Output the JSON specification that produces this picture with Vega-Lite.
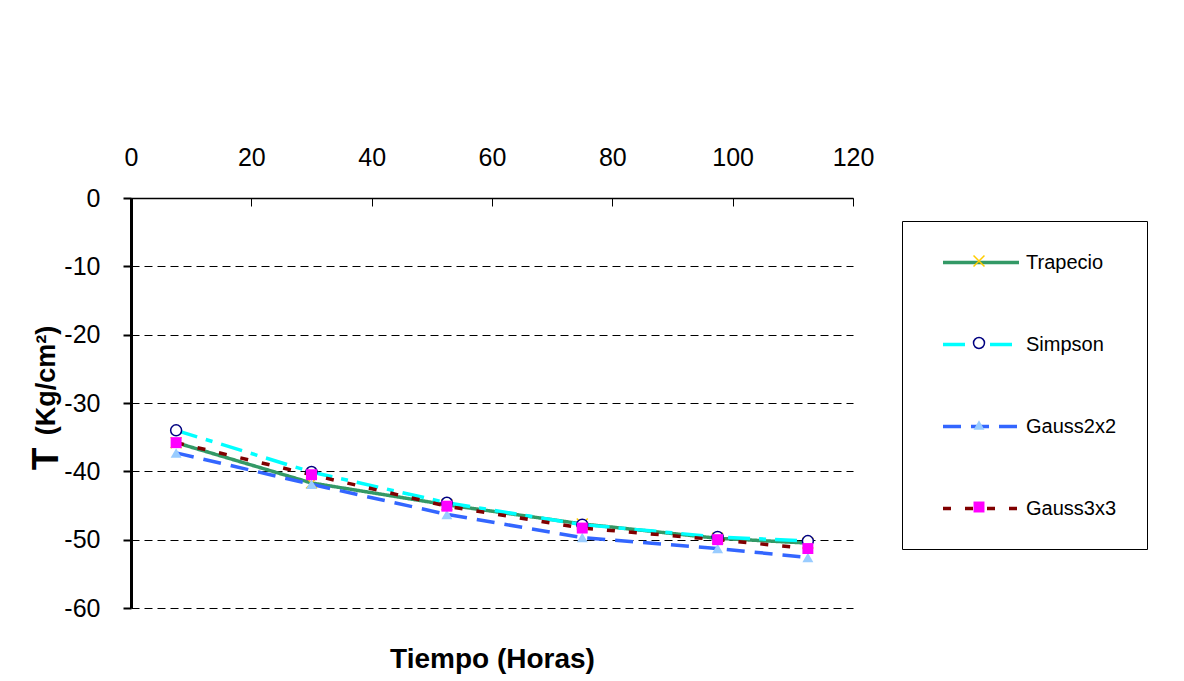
{
  "$schema": "https://vega.github.io/schema/vega-lite/v6.json",
  "width": 722,
  "height": 410,
  "autosize": {"type": "none"},
  "padding": {"left": 131, "top": 198, "right": 331, "bottom": 73},
  "background": "white",
  "config": {"view": {"stroke": null}, "font": "Liberation Sans"},
  "title": {"text": "T", "orient": "left", "anchor": "middle", "frame": "group", "offset": -34, "dx": -56, "fontSize": 37, "fontWeight": "bold", "font": "Liberation Sans", "color": "black"},
  "data": {"values": [
    {"t": 7.5, "T": -35.8, "serie": "Trapecio", "orden": 1},
    {"t": 30, "T": -41.7, "serie": "Trapecio", "orden": 1},
    {"t": 52.5, "T": -44.9, "serie": "Trapecio", "orden": 1},
    {"t": 75, "T": -47.7, "serie": "Trapecio", "orden": 1},
    {"t": 97.5, "T": -49.8, "serie": "Trapecio", "orden": 1},
    {"t": 112.5, "T": -50.5, "serie": "Trapecio", "orden": 1},
    {"t": 7.5, "T": -34.0, "serie": "Simpson", "orden": 2},
    {"t": 30, "T": -40.1, "serie": "Simpson", "orden": 2},
    {"t": 52.5, "T": -44.6, "serie": "Simpson", "orden": 2},
    {"t": 75, "T": -47.8, "serie": "Simpson", "orden": 2},
    {"t": 97.5, "T": -49.6, "serie": "Simpson", "orden": 2},
    {"t": 112.5, "T": -50.2, "serie": "Simpson", "orden": 2},
    {"t": 7.5, "T": -37.3, "serie": "Gauss2x2", "orden": 3},
    {"t": 30, "T": -41.9, "serie": "Gauss2x2", "orden": 3},
    {"t": 52.5, "T": -46.3, "serie": "Gauss2x2", "orden": 3},
    {"t": 75, "T": -49.7, "serie": "Gauss2x2", "orden": 3},
    {"t": 97.5, "T": -51.3, "serie": "Gauss2x2", "orden": 3},
    {"t": 112.5, "T": -52.6, "serie": "Gauss2x2", "orden": 3},
    {"t": 7.5, "T": -35.8, "serie": "Gauss3x3", "orden": 4},
    {"t": 30, "T": -40.5, "serie": "Gauss3x3", "orden": 4},
    {"t": 52.5, "T": -45.1, "serie": "Gauss3x3", "orden": 4},
    {"t": 75, "T": -48.3, "serie": "Gauss3x3", "orden": 4},
    {"t": 97.5, "T": -50.0, "serie": "Gauss3x3", "orden": 4},
    {"t": 112.5, "T": -51.3, "serie": "Gauss3x3", "orden": 4}
  ]},
  "layer": [
    {
      "mark": {"type": "line", "strokeWidth": 3.5},
      "encoding": {
        "x": {"field": "t", "type": "quantitative", "scale": {"domain": [0, 120], "nice": false, "zero": false},
          "axis": {"orient": "top", "values": [0, 20, 40, 60, 80, 100, 120], "grid": false, "domainColor": "black", "domainWidth": 1.5, "tickColor": "black", "tickWidth": 1, "tickSize": -8, "labelFontSize": 25, "labelFont": "Liberation Sans", "labelColor": "black", "labelPadding": 36, "labelFlush": false, "labelOverlap": false,
            "title": "Tiempo (Horas)", "titleFontSize": 28, "titleFont": "Liberation Sans", "titleFontWeight": "bold", "titleColor": "black", "titleX": 361, "titleY": 469, "titleAlign": "center", "titleBaseline": "alphabetic", "titleAnchor": null}},
        "y": {"field": "T", "type": "quantitative", "scale": {"domain": [-60, 0], "nice": false, "zero": false},
          "axis": {"orient": "left", "values": [-60, -50, -40, -30, -20, -10, 0], "labelExpr": "'' + datum.value", "grid": true, "gridColor": "black", "gridDash": [8, 5], "gridWidth": 1, "domainColor": "black", "domainWidth": 3, "tickColor": "black", "tickWidth": 2, "tickSize": 8, "labelFontSize": 25, "labelFont": "Liberation Sans", "labelColor": "black", "labelPadding": 23, "labelFlush": false, "labelOverlap": false,
            "title": "(Kg/cm²)", "titleFontSize": 27, "titleFont": "Liberation Sans", "titleFontWeight": "bold", "titleColor": "black", "titleX": -77, "titleY": 182, "titleAngle": -90, "titleAlign": "center", "titleBaseline": "alphabetic"}},
        "color": {"field": "serie", "type": "nominal",
          "scale": {"domain": ["Trapecio", "Simpson", "Gauss2x2", "Gauss3x3"], "range": ["#339966", "#00FFFF", "#3366FF", "#800000"]},
          "legend": {"title": null, "orient": "none", "legendX": 771, "legendY": 23, "padding": 30, "strokeColor": "black", "symbolType": "M-4,0L4,0", "symbolSize": 361, "symbolOffset": 37.5, "symbolStrokeWidth": 3.5, "labelFontSize": 20, "labelFont": "Liberation Sans", "labelColor": "black", "labelOffset": 33.5, "rowPadding": 60}},
        "strokeDash": {"field": "serie", "type": "nominal",
          "scale": {"domain": ["Trapecio", "Simpson", "Gauss2x2", "Gauss3x3"], "range": [[1, 0], [22, 9, 7, 9], [18, 10], [8, 14]]},
          "legend": {"title": null, "orient": "none", "legendX": 771, "legendY": 23, "padding": 30, "strokeColor": "black", "symbolType": "M-4,0L4,0", "symbolSize": 361, "symbolOffset": 37.5, "symbolStrokeWidth": 3.5, "labelFontSize": 20, "labelFont": "Liberation Sans", "labelColor": "black", "labelOffset": 33.5, "rowPadding": 60}}
      }
    },
    {
      "mark": {"type": "point", "filled": true, "opacity": 1, "strokeWidth": 1.5, "size": 120},
      "encoding": {
        "x": {"field": "t", "type": "quantitative"},
        "y": {"field": "T", "type": "quantitative"},
        "shape": {"field": "serie", "type": "nominal", "sort": {"field": "orden", "op": "min"},
          "scale": {"range": ["M-1,-1L1,1M-1,1L1,-1", "circle", "triangle-up", "square"]},
          "legend": {"title": null, "orient": "none", "legendX": 771, "legendY": 23, "padding": 30, "symbolSize": 120, "symbolOffset": 37, "symbolStrokeWidth": 1.5, "labelFontSize": 20, "labelExpr": "''", "labelOffset": 5, "rowPadding": 62}},
        "fill": {"field": "serie", "type": "nominal", "sort": {"field": "orden", "op": "min"},
          "scale": {"range": ["transparent", "white", "#99CCFF", "#FF00FF"]},
          "legend": {"title": null, "orient": "none", "legendX": 771, "legendY": 23, "padding": 30, "symbolSize": 120, "symbolOffset": 37, "symbolStrokeWidth": 1.5, "labelFontSize": 20, "labelExpr": "''", "labelOffset": 5, "rowPadding": 62}},
        "stroke": {"field": "serie", "type": "nominal", "sort": {"field": "orden", "op": "min"},
          "scale": {"range": ["#FFCC00", "#000080", "transparent", "transparent"]},
          "legend": {"title": null, "orient": "none", "legendX": 771, "legendY": 23, "padding": 30, "symbolSize": 120, "symbolOffset": 37, "symbolStrokeWidth": 1.5, "labelFontSize": 20, "labelExpr": "''", "labelOffset": 5, "rowPadding": 62}}
      }
    }
  ]
}
